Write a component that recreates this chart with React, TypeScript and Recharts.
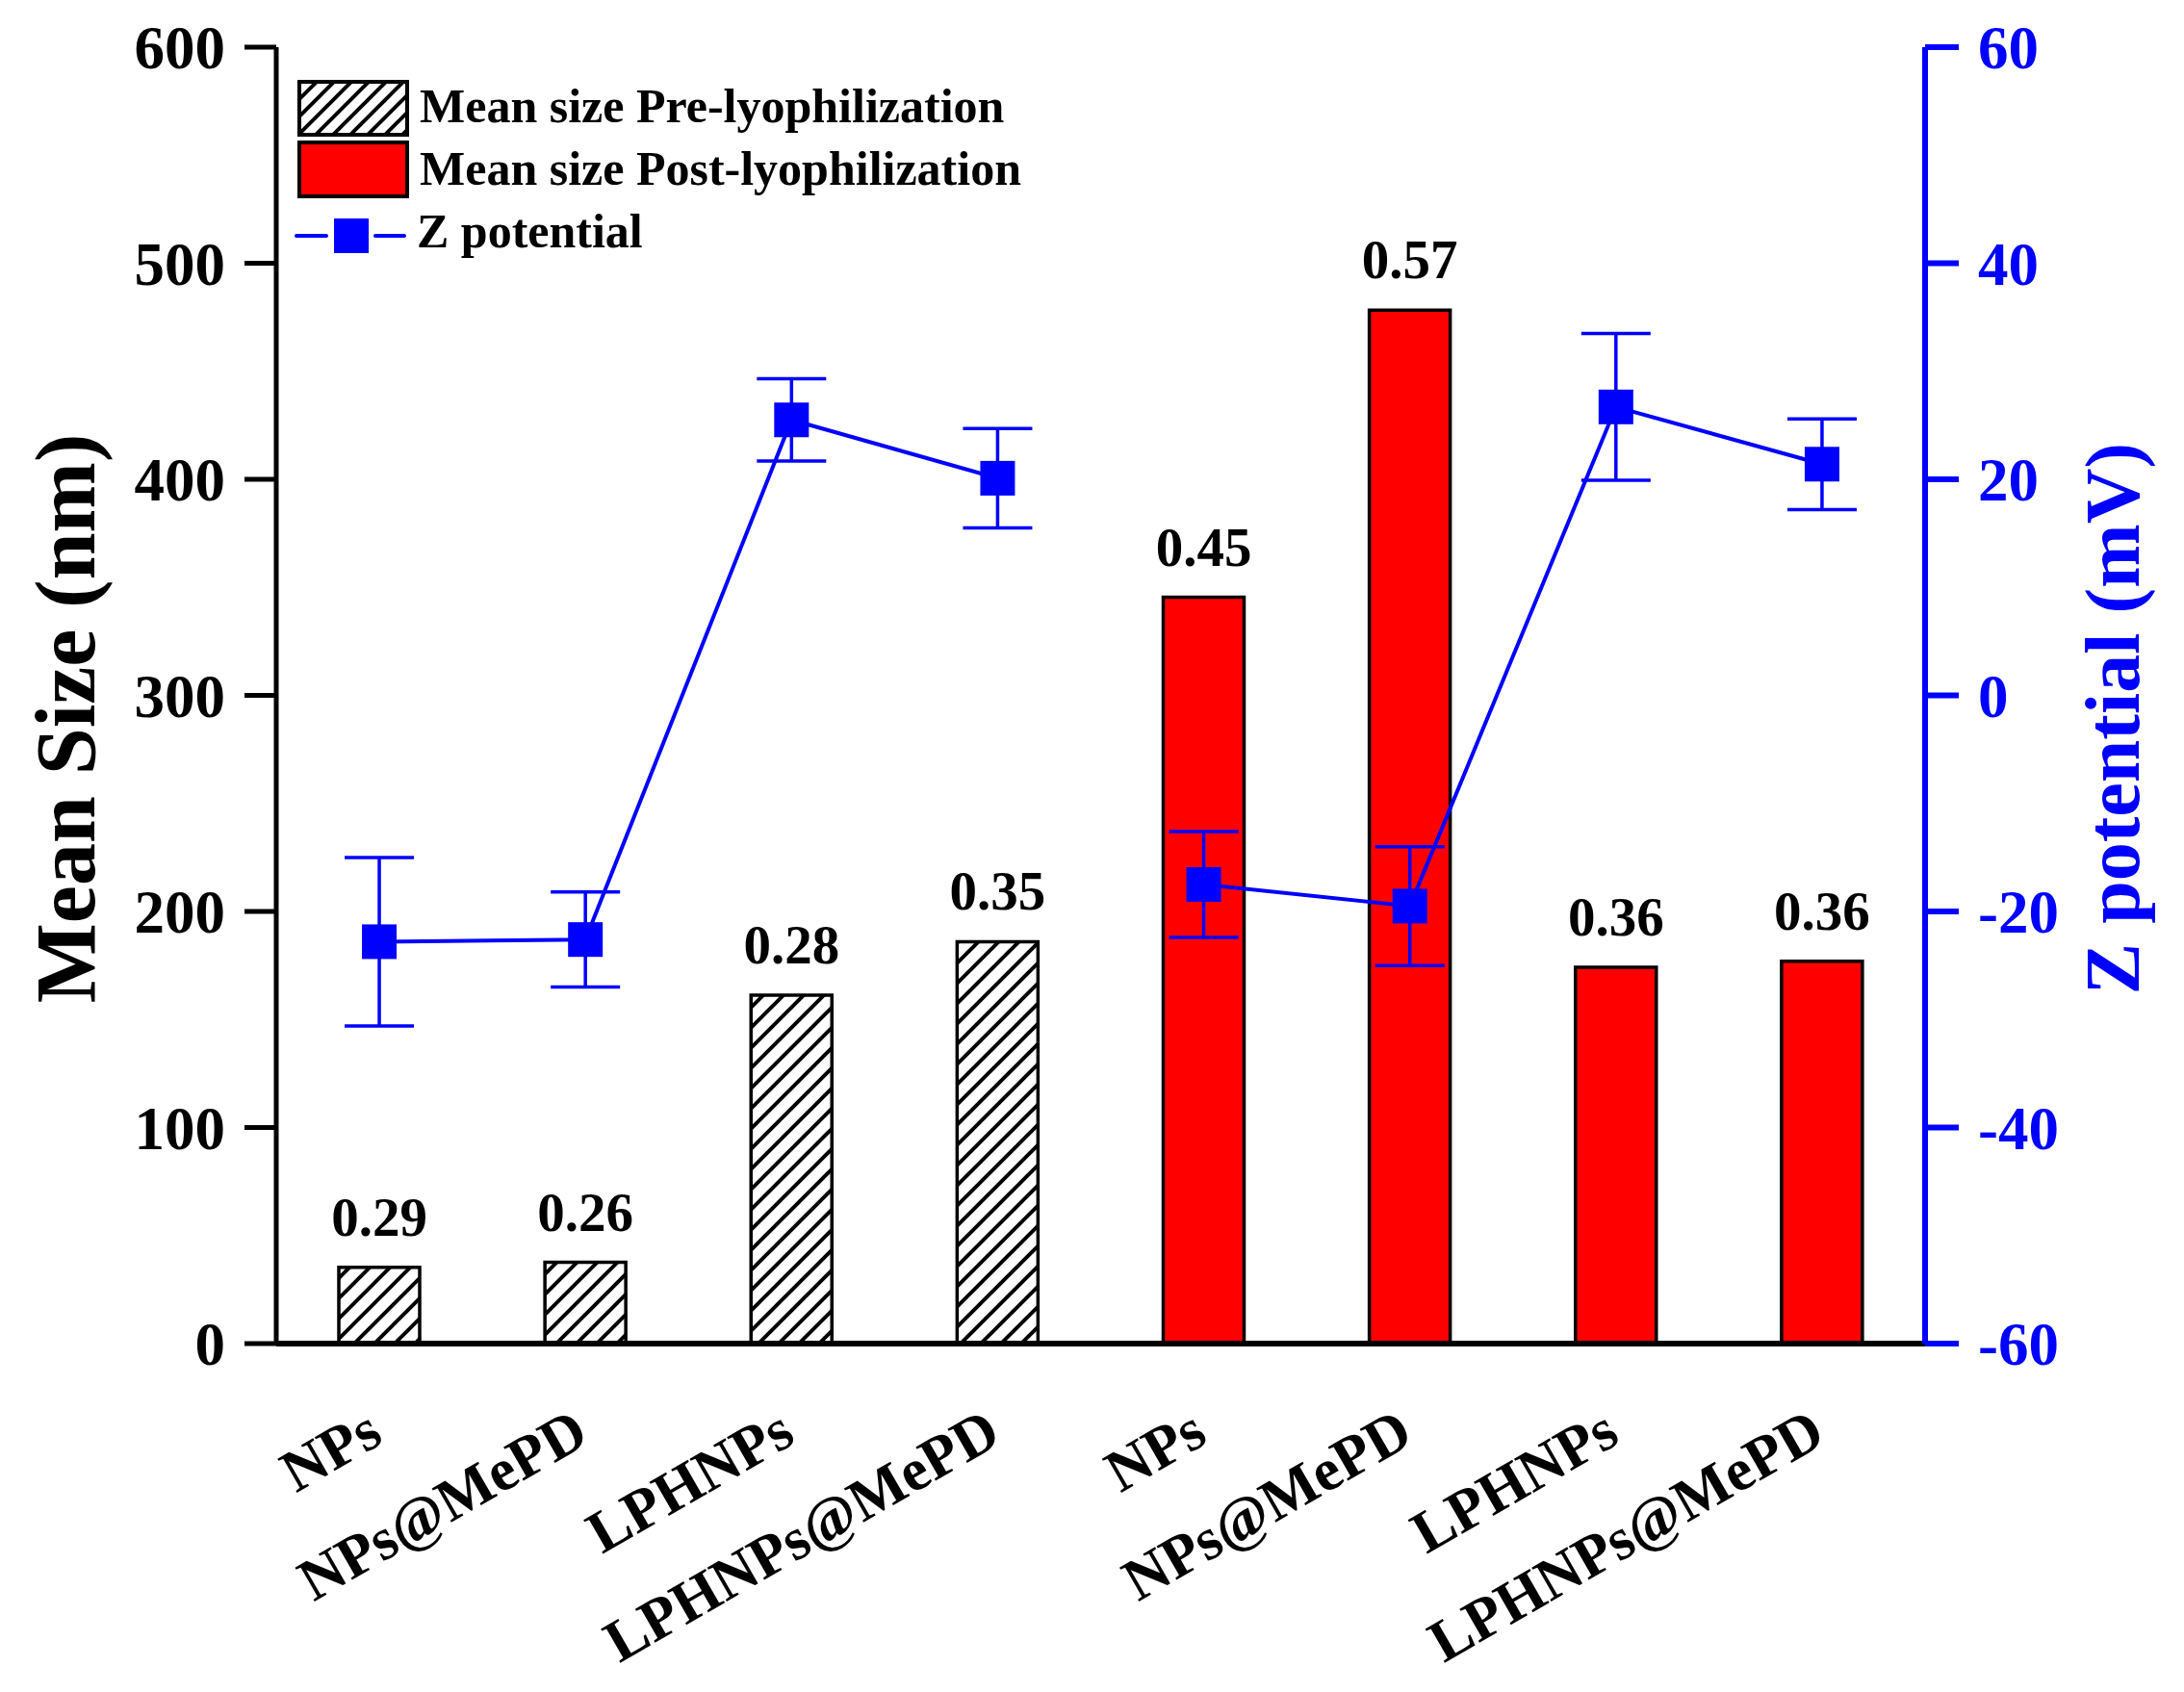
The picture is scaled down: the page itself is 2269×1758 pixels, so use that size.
import React from 'react';
import { ComposedChart, Bar, Line, XAxis, YAxis, ErrorBar, LabelList, Legend, Cell } from 'recharts';

// ---------- data ----------
const categories = ['NPs', 'NPs@MePD', 'LPHNPs', 'LPHNPs@MePD', 'NPs', 'NPs@MePD', 'LPHNPs', 'LPHNPs@MePD'];
const preSize = [35.3, 37.6, 161.2, 186, null, null, null, null];
const postSize = [null, null, null, null, 345.4, 478.3, 174.2, 177];
const pdiLabels = ['0.29', '0.26', '0.28', '0.35', '0.45', '0.57', '0.36', '0.36'];
const zPotential = [-22.8, -22.6, 25.5, 20.1, -17.5, -19.5, 26.7, 21.4];
const zError = [7.8, 4.4, 3.8, 4.6, 4.9, 5.5, 6.8, 4.2];
const sizeTicks = [0, 100, 200, 300, 400, 500, 600];
const sizeMinorTicks = [50, 150, 250, 350, 450, 550];
const zTicks = [-60, -40, -20, 0, 20, 40, 60];
const zMinorTicks = [-50, -30, -10, 10, 30, 50];
const legendLabels = ['Mean size Pre-lyophilization', 'Mean size Post-lyophilization', 'Z potential'];

const data = categories.map((name, i) => {
  const isPre = preSize[i] != null;
  return {
    name,
    size: isPre ? preSize[i] : postSize[i],
    isPre,
    pdi: pdiLabels[i],
    zPre: isPre ? zPotential[i] : null,
    zPreErr: isPre ? zError[i] : null,
    zPost: isPre ? null : zPotential[i],
    zPostErr: isPre ? null : zError[i],
  };
});

// ---------- layout / style ----------
const W = 2269;
const H = 1758;
const LEFT_W = 287;
const RIGHT_W = 269;
const TOP = 49;
const BOTTOM_H = 362;
const FONT = "'Liberation Serif', 'Times New Roman', serif";
const BLUE = '#0000FF';
const RED = '#FF0000';
const PLOT_MID = TOP + (H - BOTTOM_H - TOP) / 2;

const XTick = (props: any) => {
  const { x, y, payload } = props;
  const ax = x + 6;
  const ay = y + 102;
  return (
    <text
      x={ax}
      y={ay}
      transform={`rotate(-30, ${ax}, ${ay})`}
      textAnchor="end"
      fontFamily={FONT}
      fontWeight="bold"
      fontSize={62}
      fill="#000"
    >
      {payload.value}
    </text>
  );
};

const LeftTitle = () => (
  <text
    x={98}
    y={PLOT_MID + 24}
    transform={`rotate(-90, 98, ${PLOT_MID + 24})`}
    textAnchor="middle"
    fontFamily={FONT}
    fontWeight="bold"
    fontSize={88}
    fill="#000"
  >
    Mean Size (nm)
  </text>
);

const RightTitle = () => (
  <text
    x={2222}
    y={PLOT_MID + 24}
    transform={`rotate(-90, 2222, ${PLOT_MID + 24})`}
    textAnchor="middle"
    fontFamily={FONT}
    fontWeight="bold"
    fontSize={80}
    fill={BLUE}
  >
    Z potential (mV)
  </text>
);

const SquareDot = (props: any) => {
  const { cx, cy, index, value } = props;
  if (cx == null || cy == null || value == null) return null;
  return <rect key={`dot-${index}`} x={cx - 18} y={cy - 18} width={36} height={36} fill={BLUE} />;
};

const LegendContent = () => (
  <svg width={800} height={300} style={{ overflow: 'visible' }}>
    <defs>
      <pattern id="hatchLegend" patternUnits="userSpaceOnUse" width="18" height="18">
        <path d="M-4,22 L22,-4 M-4,4 L4,-4 M14,22 L22,14" stroke="#000" strokeWidth="4" />
      </pattern>
    </defs>
    <rect x={311} y={85} width={112} height={55} fill="url(#hatchLegend)" stroke="#000" strokeWidth={4} />
    <text x={436} y={127} fontFamily={FONT} fontWeight="bold" fontSize={50} fill="#000">
      {legendLabels[0]}
    </text>
    <rect x={311} y={148} width={112} height={56} fill={RED} stroke="#000" strokeWidth={4} />
    <text x={436} y={192} fontFamily={FONT} fontWeight="bold" fontSize={50} fill="#000">
      {legendLabels[1]}
    </text>
    <line x1={308} y1={245} x2={339} y2={245} stroke={BLUE} strokeWidth={4} strokeLinecap="round" />
    <rect x={347} y={227} width={36} height={36} fill={BLUE} />
    <line x1={390} y1={245} x2={420} y2={245} stroke={BLUE} strokeWidth={4} strokeLinecap="round" />
    <text x={433} y={257} fontFamily={FONT} fontWeight="bold" fontSize={50} fill="#000">
      {legendLabels[2]}
    </text>
  </svg>
);

const PdiLabel = (props: any) => {
  const { x, y, width, value } = props;
  if (value == null) return null;
  return (
    <text
      x={x + width / 2}
      y={y - 33}
      textAnchor="middle"
      fontFamily={FONT}
      fontWeight="bold"
      fontSize={57}
      fill="#000"
    >
      {value}
    </text>
  );
};

export default function App() {
  return (
    <div style={{ position: 'absolute', left: 0, top: 0, width: W, height: H, background: '#fff' }}>
      <svg width={0} height={0} style={{ position: 'absolute' }}>
        <defs>
          <pattern id="hatchBar" patternUnits="userSpaceOnUse" width="21" height="21">
            <path d="M-4,25 L25,-4 M-4,4 L4,-4 M17,25 L25,17" stroke="#000" strokeWidth="4" />
          </pattern>
        </defs>
      </svg>
      <ComposedChart width={W} height={H} data={data} margin={{ top: TOP, right: 0, bottom: 0, left: 0 }}>
        <XAxis
          dataKey="name"
          height={BOTTOM_H}
          interval={0}
          tickLine={false}
          tickSize={0}
          tickMargin={0}
          axisLine={{ stroke: '#000', strokeWidth: 6 }}
          tick={<XTick />}
        />
        <XAxis
          xAxisId="top"
          orientation="top"
          dataKey="name"
          height={0}
          tick={false}
          tickLine={false}
          axisLine={{ stroke: '#000', strokeWidth: 5 }}
        />
        <YAxis
          yAxisId="lminor"
          orientation="left"
          domain={[0, 600]}
          ticks={sizeMinorTicks}
          width={0}
          tick={false}
          tickSize={22}
          axisLine={false}
          tickLine={{ stroke: '#000', strokeWidth: 5 }}
        />
        <YAxis
          yAxisId="left"
          orientation="left"
          domain={[0, 600]}
          ticks={sizeTicks}
          width={LEFT_W}
          tickSize={33}
          tickMargin={20}
          axisLine={{ stroke: '#000', strokeWidth: 5 }}
          tickLine={{ stroke: '#000', strokeWidth: 5 }}
          tick={{ fontFamily: FONT, fontWeight: 'bold', fontSize: 63, fill: '#000' }}
          label={LeftTitle}
        />
        <YAxis
          yAxisId="rminor"
          orientation="right"
          domain={[-60, 60]}
          ticks={zMinorTicks}
          width={0}
          tick={false}
          tickSize={21}
          axisLine={false}
          tickLine={{ stroke: BLUE, strokeWidth: 6 }}
        />
        <YAxis
          yAxisId="right"
          orientation="right"
          domain={[-60, 60]}
          ticks={zTicks}
          width={RIGHT_W}
          tickSize={35}
          tickMargin={20}
          axisLine={{ stroke: BLUE, strokeWidth: 6 }}
          tickLine={{ stroke: BLUE, strokeWidth: 6 }}
          tick={{ fontFamily: FONT, fontWeight: 'bold', fontSize: 63, fill: BLUE }}
          label={RightTitle}
        />
        <Legend
          content={<LegendContent />}
          layout="horizontal"
          verticalAlign="middle"
          align="center"
          wrapperStyle={{ left: 0, top: 0, width: 800, height: 300 }}
        />
        <Bar yAxisId="left" dataKey="size" barSize={84} stroke="#000" strokeWidth={3.5} isAnimationActive={false}>
          {data.map((d, i) => (
            <Cell key={`c-${i}`} fill={d.isPre ? 'url(#hatchBar)' : RED} />
          ))}
          <LabelList dataKey="pdi" content={<PdiLabel />} />
        </Bar>
        <Line
          yAxisId="right"
          dataKey="zPre"
          stroke={BLUE}
          strokeWidth={4}
          dot={<SquareDot />}
          activeDot={false}
          connectNulls={false}
          isAnimationActive={false}
        >
          <ErrorBar dataKey="zPreErr" width={36} stroke={BLUE} strokeWidth={3.5} direction="y" />
        </Line>
        <Line
          yAxisId="right"
          dataKey="zPost"
          stroke={BLUE}
          strokeWidth={4}
          dot={<SquareDot />}
          activeDot={false}
          connectNulls={false}
          isAnimationActive={false}
        >
          <ErrorBar dataKey="zPostErr" width={36} stroke={BLUE} strokeWidth={3.5} direction="y" />
        </Line>
      </ComposedChart>
    </div>
  );
}
